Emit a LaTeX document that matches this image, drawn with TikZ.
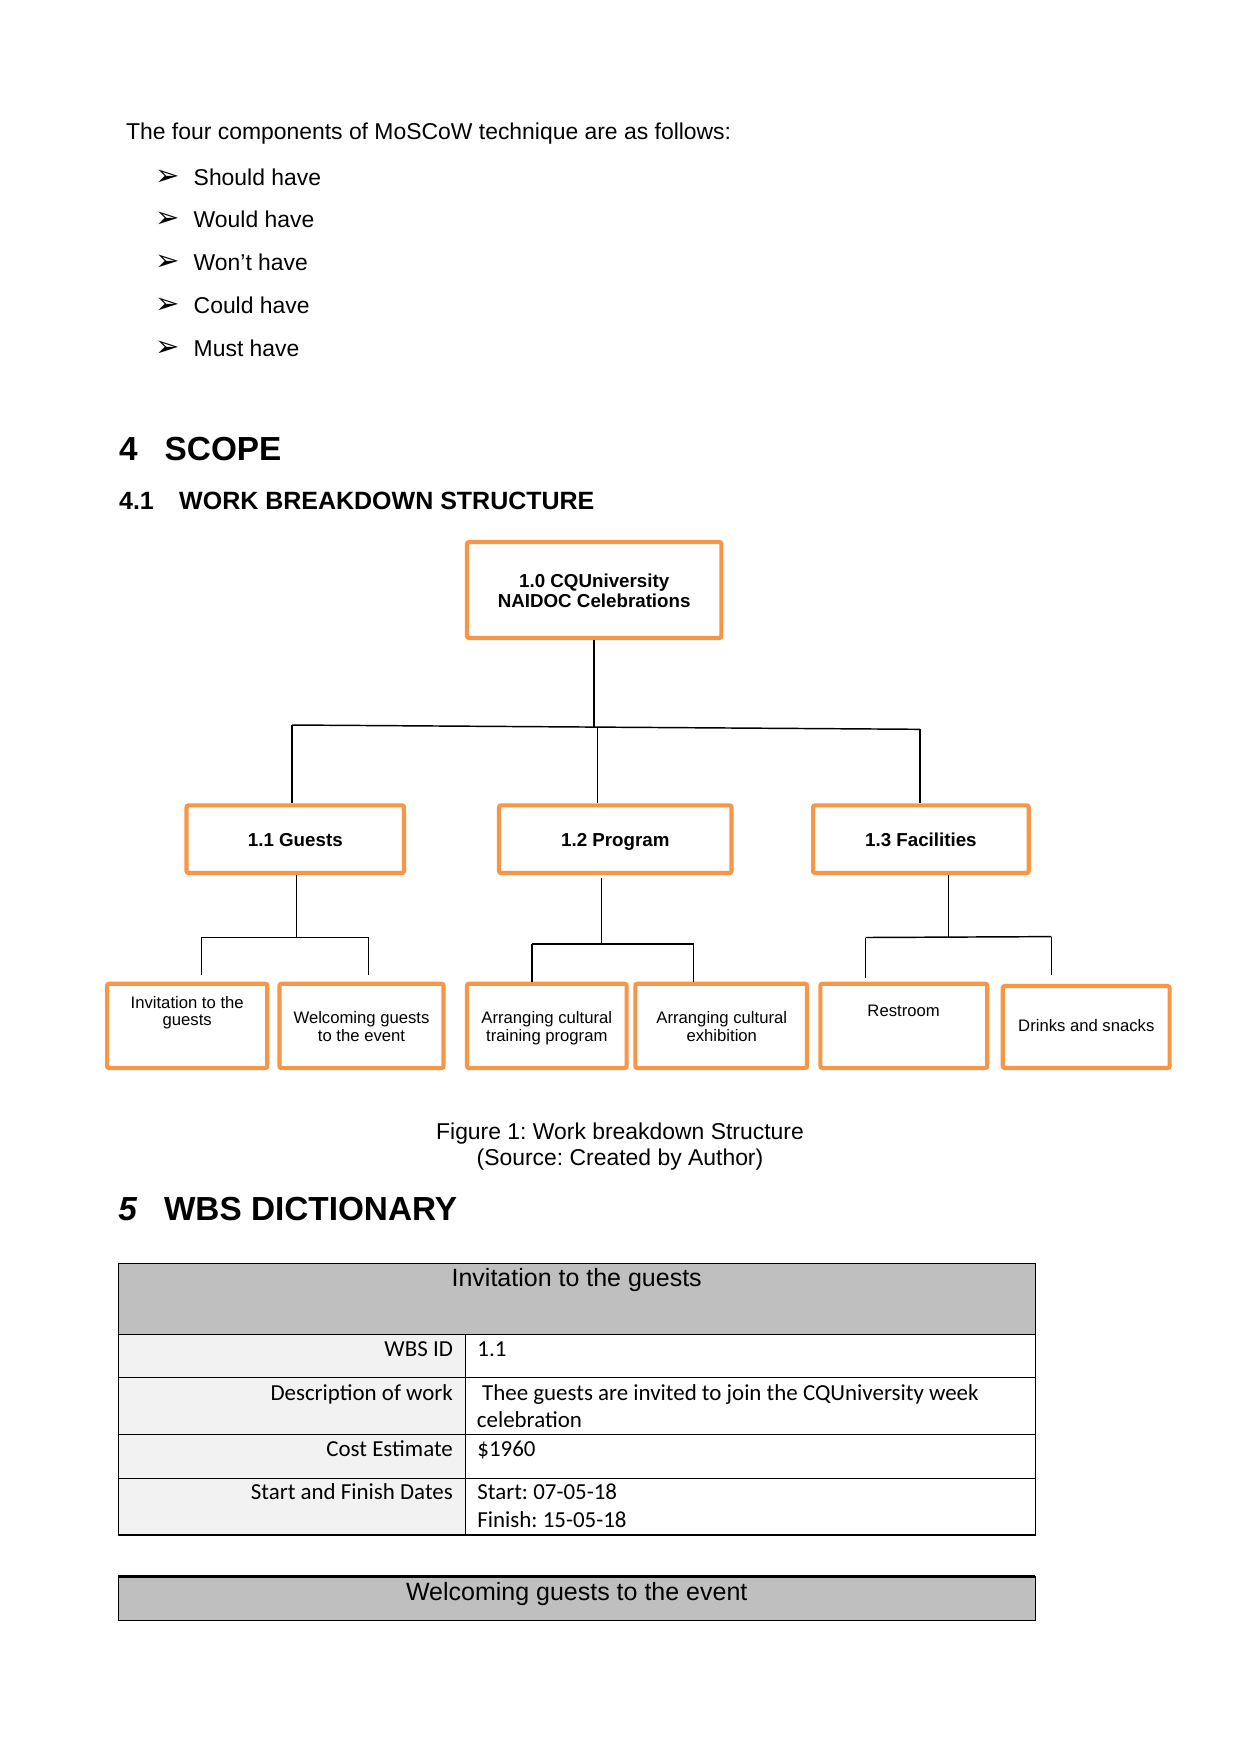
\documentclass[tikz,border=0pt]{standalone}
\usepackage{fontspec}
\setmainfont{Liberation Sans}
\newfontfamily\carlito{Carlito}
\newfontfamily\djv{DejaVu Sans}
\definecolor{wbsorange}{HTML}{F79646}
\definecolor{hdrgray}{HTML}{BFBFBF}
\definecolor{cellgray}{HTML}{F2F2F2}
\frenchspacing
\begin{document}
\frenchspacing
\begin{tikzpicture}[x=0.48pt,y=-0.48pt,
  wbox/.style={draw=wbsorange,line width=2pt,fill=white,rounded corners=1pt,inner sep=0pt},
  conn/.style={draw=black,line width=0.7pt},
  body/.style={font=\fontsize{11}{13}\selectfont,anchor=base west,inner sep=0pt},
  bul/.style={font=\djv\fontsize{14}{14}\selectfont,anchor=base west,inner sep=0pt},
  hbig/.style={font=\bfseries\fontsize{16}{19}\selectfont,anchor=base west,inner sep=0pt},
  hsmall/.style={font=\bfseries\fontsize{12}{14}\selectfont,anchor=base west,inner sep=0pt},
  lvlone/.style={font=\bfseries\fontsize{9}{9.8}\selectfont,align=center,inner sep=0pt,anchor=base},
  lvlthree/.style={font=\fontsize{8}{8.4}\selectfont,align=center,inner sep=0pt,anchor=base},
  capt/.style={font=\fontsize{11}{13}\selectfont,anchor=base,inner sep=0pt},
  thead/.style={font=\fontsize{12}{14}\selectfont,anchor=base,inner sep=0pt},
  tleft/.style={font=\carlito\fontsize{11}{13}\selectfont,anchor=base east,inner sep=0pt},
  tright/.style={font=\carlito\fontsize{11}{13}\selectfont,anchor=base west,inner sep=0pt},
  tline/.style={line width=0.6pt}]
\useasboundingbox (0,0) rectangle (1241,1754);

% intro text and bullets
\node[body] (intro) at (125.7,139.3) {The four components of MoSCoW technique are as follows:};
\node[bul] (a1) at (155,185) {➢};
\node[body] (b1) at (193.3,185) {Should have};
\node[bul] (a2) at (155,227.8) {➢};
\node[body] (b2) at (193.3,227.8) {Would have};
\node[bul] (a3) at (155,270.7) {➢};
\node[body] (b3) at (193.3,270.7) {Won’t have};
\node[bul] (a4) at (155,313.3) {➢};
\node[body] (b4) at (193.3,313.3) {Could have};
\node[bul] (a5) at (155,356) {➢};
\node[body] (b5) at (193.3,356) {Must have};

% headings
\node[hbig] (h4n) at (118.7,460) {4};
\node[hbig] (h4) at (164.3,460) {SCOPE};
\node[hsmall] (h41n) at (118.7,509.3) {4.1};
\node[hsmall] (h41) at (178.8,509.3) {WORK BREAKDOWN STRUCTURE};

% WBS boxes (multi-line labels anchored at the baseline of their last line)
\node[wbox,minimum width=122.1pt,minimum height=46.1pt] (root) at (594.2,590) {};
\node[lvlone] (roott) at (594.2,607.7) {1.0 CQUniversity\\NAIDOC Celebrations};

\node[wbox,minimum width=104.4pt,minimum height=32.5pt] (guests) at (295.3,839.2) {};
\node[lvlone] (guestst) at (295.3,846) {1.1 Guests};
\node[wbox,minimum width=111.6pt,minimum height=32.5pt] (program) at (615.3,839.2) {};
\node[lvlone] (programt) at (615.3,846) {1.2 Program};
\node[wbox,minimum width=103.5pt,minimum height=32.5pt] (facil) at (920.9,839.2) {};
\node[lvlone] (facilt) at (920.9,846) {1.3 Facilities};

\node[wbox,minimum width=76.9pt,minimum height=40.5pt] (inv) at (187.2,1025.9) {};
\node[lvlthree] (invt) at (187.2,1025.7) {Invitation to the\\guests};
\node[wbox,minimum width=78.7pt,minimum height=40.5pt] (welc) at (361.5,1025.9) {};
\node[lvlthree] (welct) at (361.5,1041) {Welcoming guests\\to the event};
\node[wbox,minimum width=76.6pt,minimum height=40.5pt] (train) at (546.8,1025.9) {};
\node[lvlthree] (traint) at (546.8,1041) {Arranging cultural\\training program};
\node[wbox,minimum width=82.4pt,minimum height=40.5pt] (exhib) at (721.2,1025.9) {};
\node[lvlthree] (exhibt) at (721.8,1041) {Arranging cultural\\exhibition};
\node[wbox,minimum width=80.1pt,minimum height=40.5pt] (rest) at (903.8,1025.9) {};
\node[lvlthree] (restt) at (903.6,1016.7) {Restroom};
\node[wbox,minimum width=80.1pt,minimum height=39.4pt] (drink) at (1086.2,1027) {};
\node[lvlthree] (drinkt) at (1086.3,1031.7) {Drinks and snacks};

% connectors level 1 -> 2
\coordinate (jL) at (292,725);
\coordinate (jR) at (920,729.3);
\coordinate (jM) at (597.5,727.1);
\draw[conn] (root.south) -- (root.south |- jM);
\draw[conn] (jL) -- (jR);
\draw[conn] (jL) -- (jL |- guests.north);
\draw[conn] (jM) -- (jM |- program.north);
\draw[conn] (jR) -- (jR |- facil.north);

% connectors guests
\coordinate (gJ) at (296.4,937.5);
\coordinate (gA) at (201.4,937.5);
\coordinate (gB) at (368.6,937.5);
\draw[conn] (guests.south -| gJ) -- (gJ);
\draw[conn] (gA) -- (gB);
\draw[conn,shorten >=3.2pt] (gA) -- (gA |- inv.north);
\draw[conn,shorten >=3.2pt] (gB) -- (gB |- welc.north);

% connectors program
\coordinate (pJ) at (601.5,944);
\coordinate (pA) at (531.8,944);
\coordinate (pB) at (693.7,944);
\draw[conn,shorten <=1.5pt] (program.south -| pJ) -- (pJ);
\draw[conn] (pA) -- (pB);
\draw[conn] (pA) -- (pA |- train.north);
\draw[conn] (pB) -- (pB |- exhib.north);

% connectors facilities
\coordinate (fJ) at (948.6,937);
\coordinate (fA) at (865.6,937.5);
\coordinate (fB) at (1051.3,936.6);
\draw[conn] (facil.south -| fJ) -- (fJ);
\draw[conn] (fA) -- (fB);
\draw[conn,shorten >=1.8pt] (fA) -- (fA |- rest.north);
\draw[conn,shorten >=4.3pt] (fB) -- (fB |- drink.north);

% caption
\node[capt] (cap1) at (620,1139.3) {Figure 1: Work breakdown Structure};
\node[capt] (cap2) at (620,1165) {(Source: Created by Author)};

% heading 5
\node[hbig,font=\bfseries\itshape\fontsize{16}{19}\selectfont] (h5n) at (118,1220) {5};
\node[hbig] (h5) at (163.6,1220) {WBS DICTIONARY};

% table 1
\fill[hdrgray] (118.2,1263.3) rectangle (1035.2,1334.3);
\fill[cellgray] (118.2,1334.3) rectangle (465.5,1535);
\draw[tline] (118.2,1263.3) rectangle (1035.2,1535);
\draw[tline] (118.2,1334.3) -- (1035.2,1334.3);
\draw[tline] (118.2,1377.3) -- (1035.2,1377.3);
\draw[tline] (118.2,1434.3) -- (1035.2,1434.3);
\draw[tline] (118.2,1478.3) -- (1035.2,1478.3);
\draw[tline] (465.5,1334.3) -- (465.5,1535);

\node[thead] (t1h) at (576.7,1286.5) {Invitation to the guests};
\node[tleft] (l1) at (453.3,1356.7) {WBS ID};
\node[tleft] (l2) at (453.3,1400) {Description of work};
\node[tleft] (l3) at (453.3,1456.7) {Cost Estimate};
\node[tleft] (l4) at (453.3,1499.3) {Start and Finish Dates};
\node[tright] (r1) at (477,1356.7) {1.1};
\node[tright] (r2) at (481.8,1400) {Thee guests are invited to join the CQUniversity week};
\node[tright] (r2b) at (476.5,1427.3) {celebration};
\node[tright] (r3) at (477,1456.7) {\$1960};
\node[tright] (r4) at (477,1499.3) {Start: 07-05-18};
\node[tright] (r4b) at (477,1527.3) {Finish: 15-05-18};

% table 2
\fill[hdrgray] (118.2,1576.7) rectangle (1035.2,1620.7);
\draw[tline] (118.2,1576.7) rectangle (1035.2,1620.7);
\draw[line width=1.2pt] (118.2,1576.7) -- (1035.2,1576.7);
\node[thead] (t2h) at (576.7,1600) {Welcoming guests to the event};
\end{tikzpicture}
\end{document}
